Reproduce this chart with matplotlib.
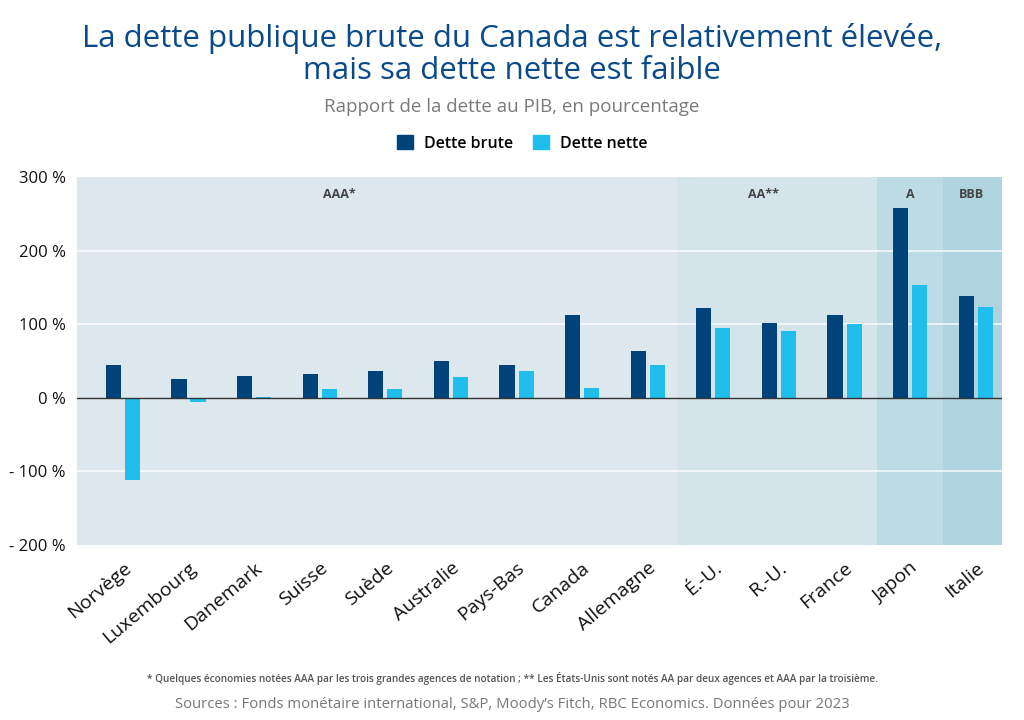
import matplotlib.pyplot as plt
import numpy as np
from matplotlib.patches import Patch

# données (ratio dette/PIB, %)
pays = ["Norvège", "Luxembourg", "Danemark", "Suisse", "Suède", "Australie",
        "Pays-Bas", "Canada", "Allemagne", "É.-U.", "R.-U.", "France",
        "Japon", "Italie"]
dette_brute = [44, 25, 30, 33, 36, 50, 45, 113, 64, 122, 102, 113, 258, 138]
dette_nette = [-111, -6, 1, 12, 12, 29, 36, 13, 44, 95, 91, 101, 154, 123]

# groupes de notation
notes = ["AAA*", "AA**", "A", "BBB"]
notes_debut = [-0.7, 8.45, 11.5, 12.5]
notes_fin = [8.45, 11.5, 12.5, 13.4]
notes_label_x = [3.3, 9.76, 12.0, 12.93]
notes_couleurs = ["#dde8ee", "#d4e4eb", "#bddbe4", "#afd4e0"]

yticks = [-200, -100, 0, 100, 200, 300]

plt.rcParams['font.family'] = ['Open Sans', 'DejaVu Sans']

fig = plt.figure(figsize=(10.24, 7.2), dpi=100)
ax = fig.add_axes([0.0752, 0.243, 0.9033, 0.511])

x = np.arange(len(pays))

# fonds colorés par notation
for nom, a, b, lx, c in zip(notes, notes_debut, notes_fin, notes_label_x, notes_couleurs):
    ax.axvspan(a, b, color=c, lw=0, zorder=0)
    ax.text(lx, 276, nom, ha="center", va="center", fontsize=9,
            fontweight="bold", color="#444444", zorder=3)

# grille blanche
for y in [-100, 100, 200]:
    ax.axhline(y, color="white", lw=1.3, alpha=0.75, zorder=1)
ax.axhline(0, color="#333333", lw=1, zorder=3)

w = 0.23
ax.bar(x - 0.145, dette_brute, width=w, color="#00437a", zorder=2, label="Dette brute")
ax.bar(x + 0.145, dette_nette, width=w, color="#1fbeed", zorder=2, label="Dette nette")

ax.set_xlim(-0.7, 13.4)
ax.set_ylim(-200, 300)
ax.set_yticks(yticks)
ax.set_yticklabels([f"{v} %".replace("-", "- ") if v < 0 else f"{v} %" for v in yticks],
                   fontsize=12, color="#111111")
ax.set_xticks(x)
ax.set_xticklabels(pays, rotation=40, ha="right", rotation_mode="anchor",
                   fontsize=14, color="#111111")
ax.tick_params(length=0, pad=8)
ax.tick_params(axis="x", pad=10)
for s in ax.spines.values():
    s.set_visible(False)

# titres
fig.text(0.5, 0.924, "La dette publique brute du Canada est relativement élevée,\nmais sa dette nette est faible",
         ha="center", va="center", fontsize=22.5, color="#0a4a8a", linespacing=1.1)
fig.text(0.5, 0.851, "Rapport de la dette au PIB, en pourcentage", ha="center", va="center",
         fontsize=13.5, color="#7a7a7a")

# légende
handles = [Patch(color="#00437a"), Patch(color="#1fbeed")]
fig.legend(handles, ["Dette brute", "Dette nette"], loc="center", bbox_to_anchor=(0.51, 0.801),
           ncol=2, frameon=False, handlelength=1.0, handleheight=1.0,
           columnspacing=1.2, handletextpad=0.7, prop={"weight": "semibold", "size": 11.5})

# notes de bas
fig.text(0.5, 0.057, "* Quelques économies notées AAA par les trois grandes agences de notation ; ** Les États-Unis sont notés AA par deux agences et AAA par la troisième.",
         ha="center", va="center", fontsize=7.2, color="#555555", fontweight="semibold")
fig.text(0.5, 0.022, "Sources : Fonds monétaire international, S&P, Moody’s Fitch, RBC Economics. Données pour 2023",
         ha="center", va="center", fontsize=10.7, color="#777777")

fig.savefig("out.png", dpi=100)
